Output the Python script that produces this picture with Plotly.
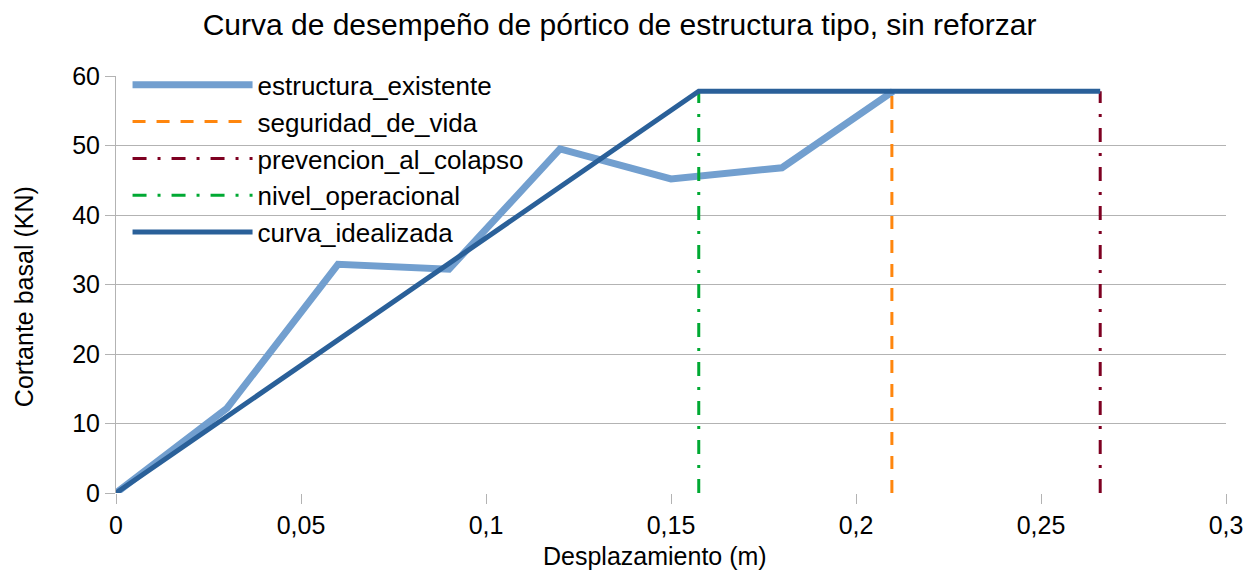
import plotly.graph_objects as go

x_exist = [0, 0.03, 0.06, 0.09, 0.12, 0.15, 0.18, 0.21]
y_exist = [0, 12.2, 32.9, 32.2, 49.5, 45.2, 46.8, 57.8]

x_ideal = [0, 0.1575, 0.266]
y_ideal = [0, 57.8, 57.8]

x_seg = [0.2097, 0.2097]
y_seg = [0, 57.8]
x_prev = [0.266, 0.266]
y_prev = [0, 57.8]
x_oper = [0.1575, 0.1575]
y_oper = [0, 57.8]

fig = go.Figure()
fig.add_trace(go.Scatter(x=x_exist, y=y_exist, mode="lines", name="estructura_existente",
                         line=dict(color="#729fcf", width=7)))
fig.add_trace(go.Scatter(x=x_seg, y=y_seg, mode="lines", name="seguridad_de_vida",
                         line=dict(color="#ff860d", width=3, dash="13px,11px")))
fig.add_trace(go.Scatter(x=x_prev, y=y_prev, mode="lines", name="prevencion_al_colapso",
                         line=dict(color="#7e0021", width=3, dash="14px,11px,3px,11px")))
fig.add_trace(go.Scatter(x=x_oper, y=y_oper, mode="lines", name="nivel_operacional",
                         line=dict(color="#00a933", width=3, dash="14px,11px,3px,11px")))
fig.add_trace(go.Scatter(x=x_ideal, y=y_ideal, mode="lines", name="curva_idealizada",
                         line=dict(color="#2a6099", width=5)))

fig.update_layout(
    width=1248, height=565,
    separators=", ",
    paper_bgcolor="white", plot_bgcolor="white",
    font=dict(family="Liberation Sans, Arial, sans-serif", size=25, color="black"),
    title=dict(text="Curva de desempeño de pórtico de estructura tipo, sin reforzar",
               x=0.49, xanchor="center", y=0.970, yanchor="middle",
               font=dict(size=30)),
    margin=dict(l=108, r=30, t=68, b=80),
    showlegend=True,
    legend=dict(x=0.0104, y=1.035, xanchor="left", yanchor="top",
                bgcolor="rgba(0,0,0,0)", itemwidth=120, tracegroupgap=0,
                font=dict(size=26)),
    xaxis=dict(range=[0, 0.3], dtick=0.05, tick0=0, showgrid=False,
               showline=False, zeroline=False, automargin=False,
               ticks="outside", ticklen=10, tickcolor="#b3b3b3",
               tickfont=dict(size=25)),
    yaxis=dict(range=[0, 60], dtick=10, showgrid=True, gridcolor="#b3b3b3",
               showline=True, linecolor="#b3b3b3", zeroline=False, automargin=False,
               ticks="outside", ticklen=10, tickcolor="#b3b3b3",
               tickfont=dict(size=25)),
    annotations=[
        dict(text="Cortante basal (KN)", textangle=-90, showarrow=False,
             xref="paper", yref="paper", x=-0.0829, y=0.472,
             xanchor="center", yanchor="middle", font=dict(size=25)),
        dict(text="Desplazamiento (m)", showarrow=False,
             xref="paper", yref="paper", x=0.4856, y=-0.152,
             xanchor="center", yanchor="middle", font=dict(size=25)),
    ],
)

fig.write_html("out.html")
